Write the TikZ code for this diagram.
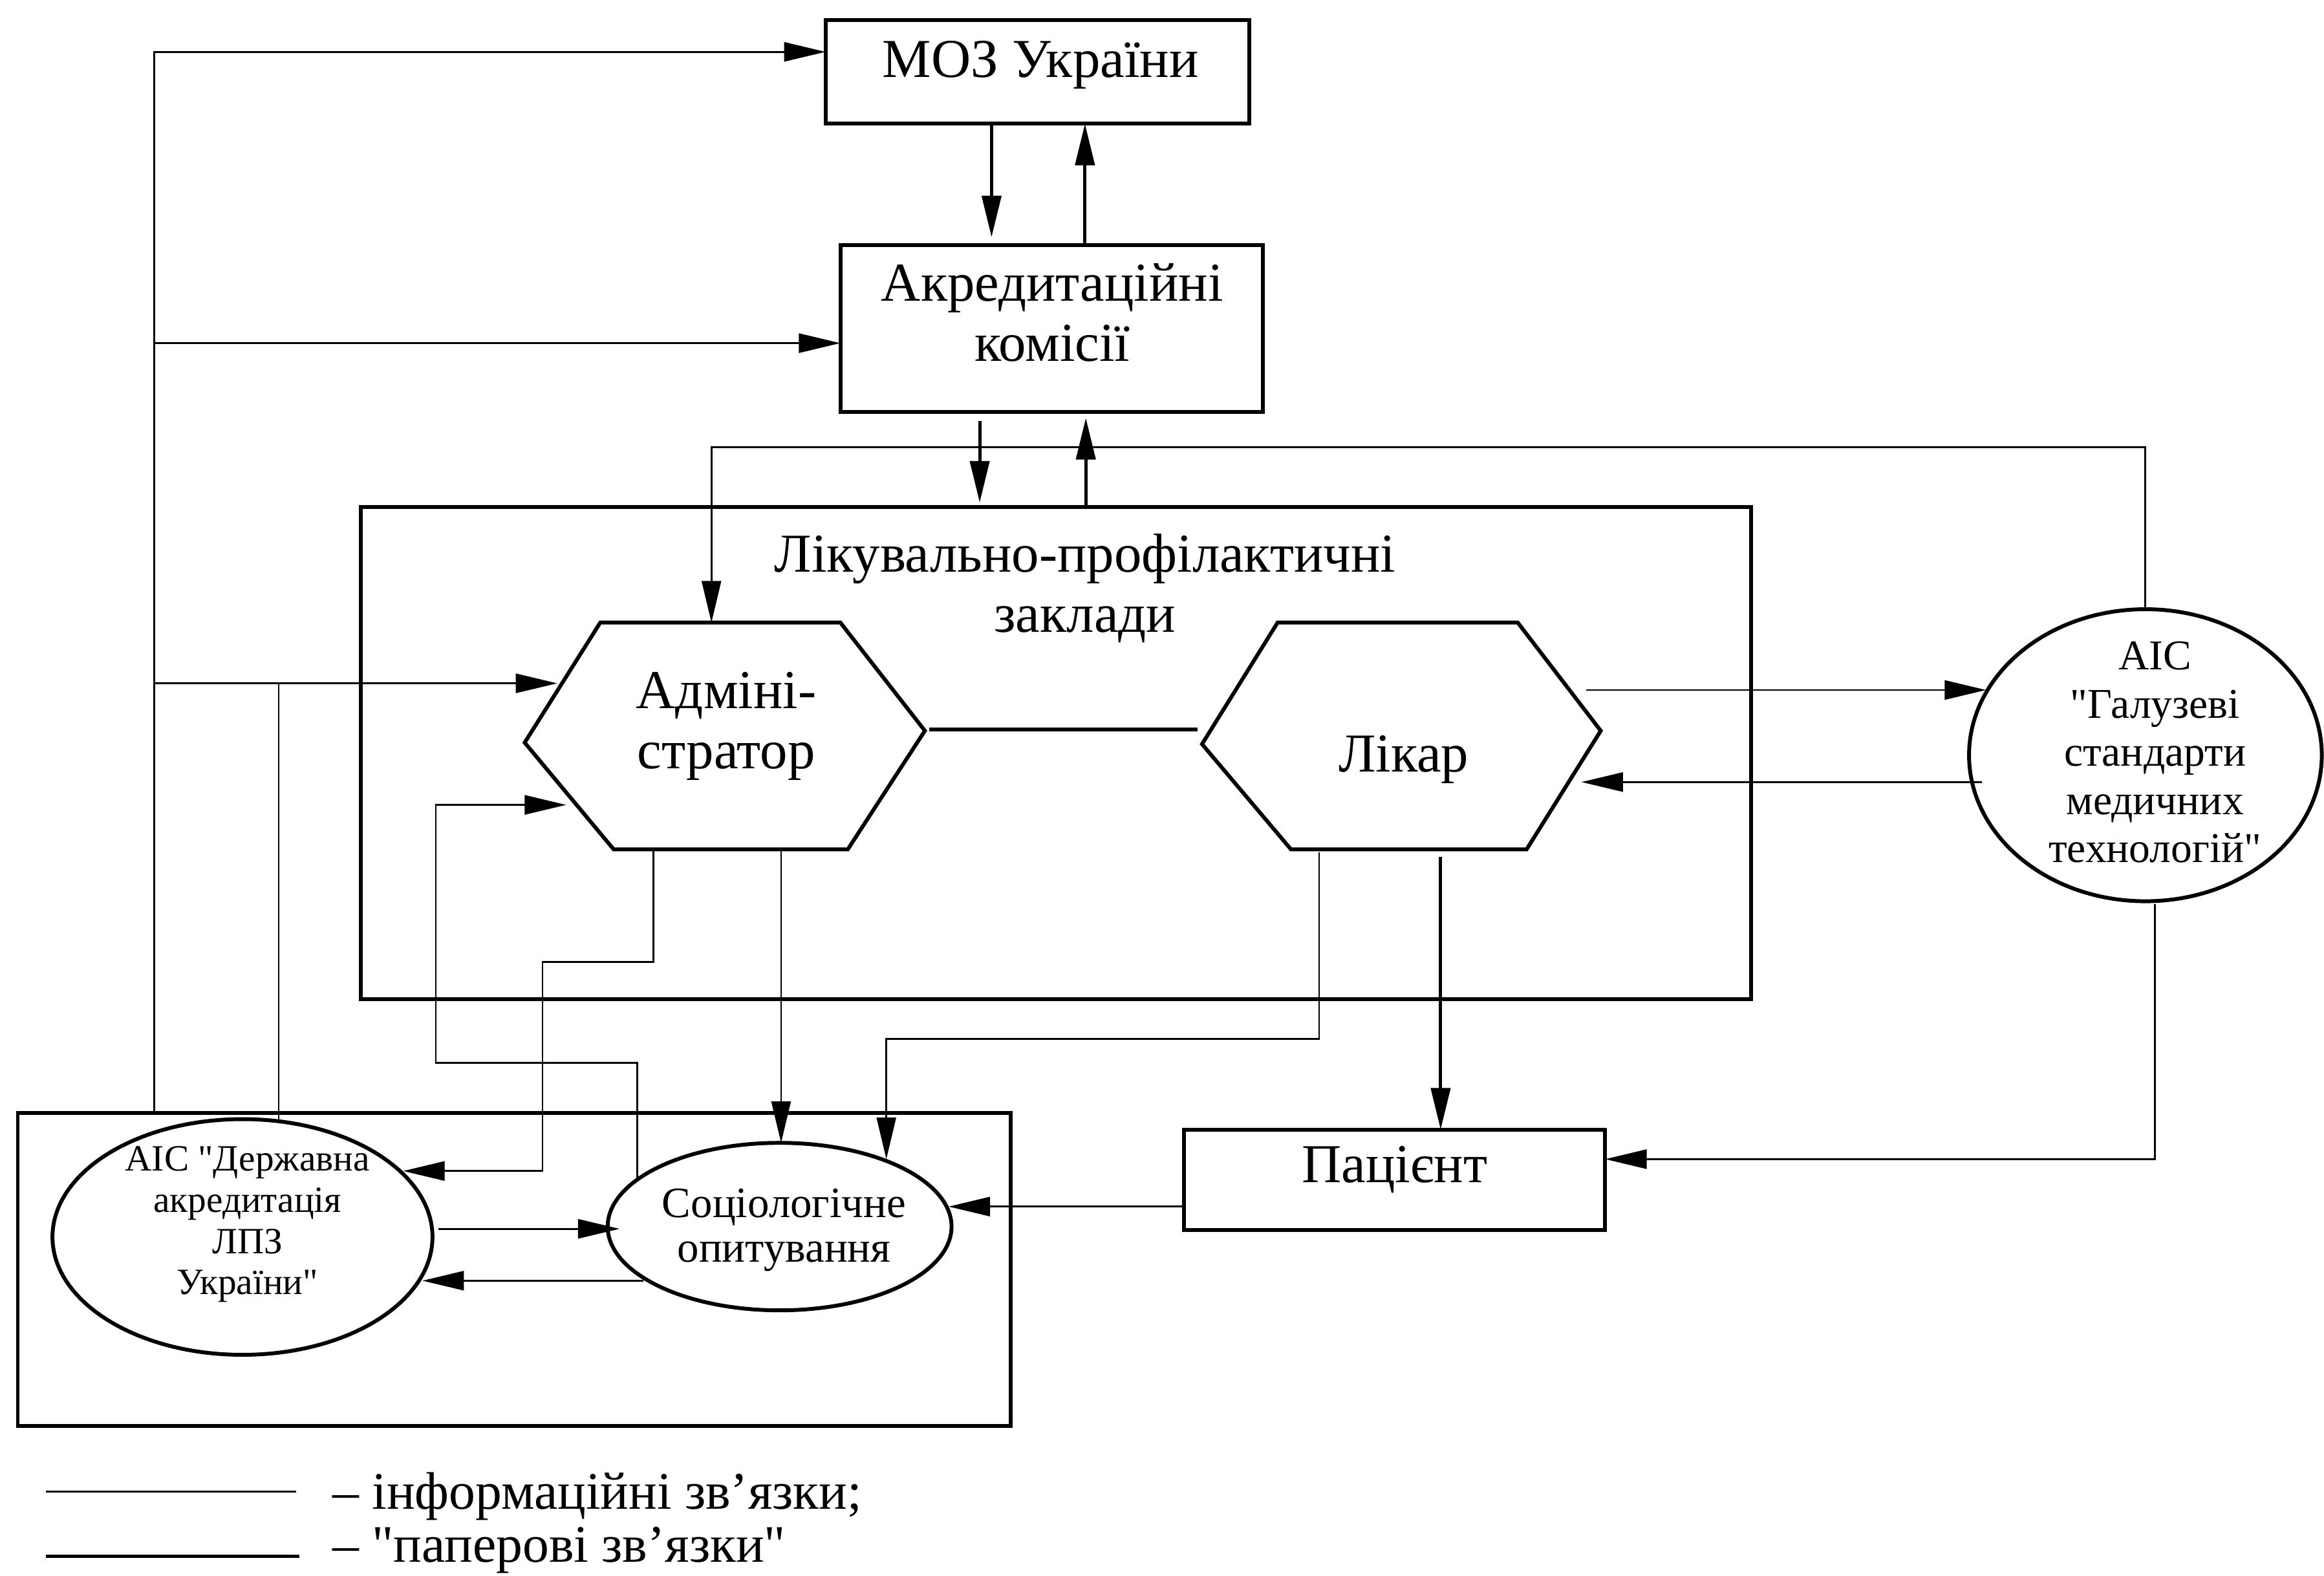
\documentclass[tikz,border=0pt]{standalone}
\usepackage{fontspec}
\setmainfont{Liberation Serif}
\usetikzlibrary{arrows.meta,shapes.geometric,calc}
\newcommand\fszMain{\fontsize{18.5pt}{20.25pt}\selectfont}
\newcommand\fszGal{\fontsize{14.3pt}{16.25pt}\selectfont}
\newcommand\fszSoc{\fontsize{14.6pt}{15.1pt}\selectfont}
\newcommand\fszDer{\fontsize{12.5pt}{13.9pt}\selectfont}
\newcommand\fszLeg{\fontsize{17.8pt}{20pt}\selectfont}
\newcommand\qd{\textquotedbl}
\begin{document}
\begin{tikzpicture}[x=0.5pt,y=-0.5pt,
  frame/.style={draw, line width=1.3pt, inner sep=0pt, outer sep=0pt},
  ell/.style={frame, ellipse},
  info/.style={line width=0.6pt},
  paper/.style={line width=1.1pt},
  tip/.style={-{Triangle[length=14pt,width=6.5pt]}},
  txt/.style={inner sep=0pt, align=center},
]
\useasboundingbox (0,0) rectangle (1568,1063);

% boxes
\node[frame, minimum width=143pt, minimum height=35pt] (moz) at (700,48.5) {};
\node[txt, font=\fszMain, anchor=base] (moztxt) at (702,52.3) {МОЗ України};

\node[frame, minimum width=142.5pt, minimum height=56.2pt] (akred) at (709.5,221.6) {};
\node[txt, font=\fszMain] (akredtxt) at (710,211) {Акредитаційні\\комісії};

\node[frame, minimum width=469pt, minimum height=166pt] (lpz) at (712.5,508) {};
\node[txt, font=\fszMain] (lpztxt) at (732,397) {Лікувально-профілактичні\\заклади};

% hexagons
\coordinate (a1) at (405,420); \coordinate (a2) at (567,420);
\coordinate (a3) at (624,493); \coordinate (a4) at (572,573);
\coordinate (a5) at (414,573); \coordinate (a6) at (354,501);
\draw[frame] (a1)--(a2)--(a3)--(a4)--(a5)--(a6)--cycle;
\node[txt, font=\fszMain] (adm) at (490,490) {Адміні-\\стратор};

\coordinate (l1) at (862,420); \coordinate (l2) at (1024,420);
\coordinate (l3) at (1080,493); \coordinate (l4) at (1030,573);
\coordinate (l5) at (871,573); \coordinate (l6) at (811,502);
\draw[frame] (l1)--(l2)--(l3)--(l4)--(l5)--(l6)--cycle;
\node[txt, font=\fszMain, anchor=base] (lik) at (947,520.6) {Лікар};

\node[ell, minimum width=119pt, minimum height=98.5pt] (galuz) at (1447.5,509.5) {};
\node[txt, font=\fszGal] (galuztxt) at (1454,507.5) {АІС\\\qd Галузеві\\стандарти\\медичних\\технологій\qd};

\node[frame, minimum width=142pt, minimum height=34pt] (pat) at (941,796) {};
\node[txt, font=\fszMain, anchor=base] (pattxt) at (941,797.6) {Пацієнт};

\node[frame, minimum width=335pt, minimum height=105.5pt] (aisbox) at (347,856.5) {};
\node[ell, minimum width=128.2pt, minimum height=79.5pt] (derzh) at (163.6,834.5) {};
\node[txt, font=\fszDer] (derztxt) at (167,826) {АІС \qd Державна\\акредитація\\ЛПЗ\\України\qd};
\node[ell, minimum width=116pt, minimum height=56.5pt] (soc) at (526,827.5) {};
\node[txt, font=\fszSoc] (soctxt) at (529,830) {Соціологічне\\опитування};

% paper links
\draw[paper,tip] (moz.south -| 669,0) -- (669,160);
\draw[paper,tip] (akred.north -| 732,0) -- (moz.south -| 732,0);
\draw[paper,tip] (661,284) -- (661,339);
\draw[paper,tip] (lpz.north -| 732.6,0) -- (732.6,282);
\draw[line width=1.3pt] (627,492) -- (808,492);
\draw[paper,tip] (972,578) -- (pat.north -| 972,0);

% information links
\draw[info,tip] (aisbox.north -| 104,0) -- (104,35) -- (moz.west |- 0,35);
\draw[info,tip] (104,231.5) -- (akred.west |- 0,231.5);
\draw[info,tip] (104,461) -- (376,461);
\draw[info] (188,756) -- (188,461);
\draw[info,tip] (galuz.north) |- (480,301.6) -- (a1 -| 480,0);
\draw[info,tip] (1070,465.5) -- (1340,465.5);
\draw[info,tip] (1337,527.6) -- (1067,527.6);
\draw[info,tip] (1454,610) -- (1454,782) -- (pat.east |- 0,782);
\draw[info,tip] (890,575) -- (890,701) -- (598,701) -- (598,782);
\draw[info,tip] (441,573) -- (441,649) -- (366,649) -- (366,790) -- (272,790);
\draw[info,tip] (527,573) -- (527,771);
\draw[info,tip] (430,795) -- (430,717) -- (294,717) -- (294,543) -- (382,543);
\draw[info,tip] (296,829) -- (418,829);
\draw[info,tip] (434,864) -- (285,864);
\draw[info,tip] (pat.west |- 0,814) -- (640,814);

% legend
\draw[info] (31,1006.4) -- (200,1006.4);
\draw[paper] (31,1050) -- (202,1050);
\node[txt, anchor=base west, font=\fszLeg] (leg1) at (224,1018) {– інформаційні зв’язки;};
\node[txt, anchor=base west, font=\fszLeg] (leg2) at (224,1054) {– \qd паперові зв’язки\qd};
\end{tikzpicture}
\end{document}
